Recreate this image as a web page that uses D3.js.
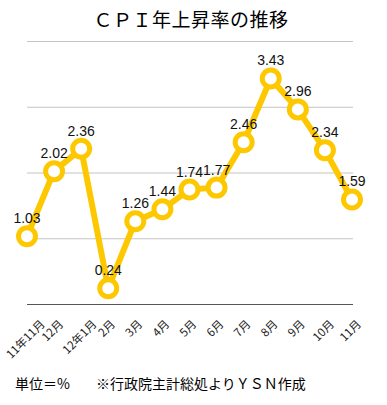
<!DOCTYPE html>
<html>
<head>
<meta charset="utf-8">
<script src="https://cdn.jsdelivr.net/npm/d3@7"></script>
<style>
  body { margin: 0; background: #fff; }
  text { font-family: "Noto Sans CJK JP", "Noto Sans", sans-serif; }
</style>
</head>
<body>
<div id="container"></div>
<script>
// ==================== data ==================== //

const months = ["11年11月", "12月", "12年1月", "2月", "3月", "4月", "5月", "6月", "7月", "8月", "9月", "10月", "11月"];
const cpiRates = [1.03, 2.02, 2.36, 0.24, 1.26, 1.44, 1.74, 1.77, 2.46, 3.43, 2.96, 2.34, 1.59];
const gridValues = [1, 2, 3, 4];

// ==================== chart ==================== //

const width = 387, height = 405;
const margin = { top: 41, right: 35, bottom: 101, left: 27 };
const yellow = "#fdc800";

const svg = d3.select("#container")
    .append("svg")
    .attr("width", width)
    .attr("height", height);

const x = d3.scalePoint()
    .domain(months)
    .range([margin.left, width - margin.right])
    .padding(0);

const y = d3.scaleLinear()
    .domain([0, 4])
    .range([height - margin.bottom, margin.top]);

// title
svg.append("text")
    .attr("x", 191)
    .attr("y", 27)
    .attr("text-anchor", "middle")
    .style("font-size", "19px")
    .style("letter-spacing", "0.5px")
    .text("ＣＰＩ年上昇率の推移");

// gridlines
svg.append("g")
    .selectAll("line")
    .data(gridValues)
    .join("line")
    .attr("x1", margin.left)
    .attr("x2", width - margin.right + 1)
    .attr("y1", d => y(d) + 0.5)
    .attr("y2", d => y(d) + 0.5)
    .attr("stroke", "#c4c4c4")
    .attr("stroke-width", 1);

// x axis
const xAxis = svg.append("g")
    .attr("transform", `translate(0,${y(0)})`)
    .call(d3.axisBottom(x).tickSize(0).tickPadding(0));

xAxis.select(".domain")
    .attr("stroke", "#555")
    .attr("d", `M${margin.left},0.5H${width - margin.right + 1}`);

// labels are rotated around their centre, which sits below the tick
// far enough that the rotated box clears the axis by a fixed gap
const tickFont = 11.5;
xAxis.selectAll(".tick text")
    .attr("text-anchor", "middle")
    .attr("y", 0)
    .attr("dy", "0.35em")
    .style("font-size", tickFont + "px")
    .style("font-family", "\"Noto Sans CJK JP\", sans-serif")
    .attr("fill", "#222")
    .attr("transform", function () {
        const len = this.getComputedTextLength();
        const cy = 14 + (len + tickFont) / (2 * Math.SQRT2);
        return `translate(-2,${cy}) rotate(-45)`;
    });

// line
const line = d3.line()
    .x((d, i) => x(months[i]))
    .y(d => y(d));

svg.append("path")
    .datum(cpiRates)
    .attr("d", line)
    .attr("fill", "none")
    .attr("stroke", yellow)
    .attr("stroke-width", 6)
    .attr("stroke-linejoin", "round");

svg.append("g")
    .selectAll("circle")
    .data(cpiRates)
    .join("circle")
    .attr("cx", (d, i) => x(months[i]))
    .attr("cy", d => y(d))
    .attr("r", 8.5)
    .attr("fill", "#fff")
    .attr("stroke", yellow)
    .attr("stroke-width", 5);

// value labels
svg.append("g")
    .selectAll("text")
    .data(cpiRates)
    .join("text")
    .attr("x", (d, i) => x(months[i]))
    .attr("y", d => y(d) - 13)
    .attr("text-anchor", "middle")
    .style("font-size", "14px")
    .style("font-family", "\"Liberation Sans\", sans-serif")
    .attr("fill", "#111")
    .text(d => d.toFixed(2));

// footer
svg.append("text")
    .attr("x", 15)
    .attr("y", 389)
    .style("font-size", "14px")
    .text("単位＝%");

svg.append("text")
    .attr("x", 96)
    .attr("y", 389)
    .style("font-size", "14px")
    .text("※行政院主計総処よりＹＳＮ作成");
</script>
</body>
</html>
